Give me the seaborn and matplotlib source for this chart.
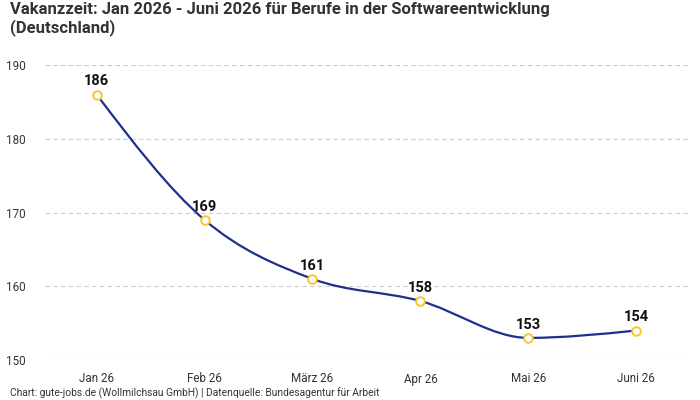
import numpy as np
import matplotlib
matplotlib.use("Agg")
import matplotlib.pyplot as plt
from matplotlib.path import Path
from matplotlib.patches import PathPatch
import seaborn as sns

# data
months = ["Jan 26", "Feb 26", "März 26", "Apr 26", "Mai 26", "Juni 26"]
vakanzzeit = [186, 169, 161, 158, 153, 154]
yticks = [150, 160, 170, 180, 190]

title = "Vakanzzeit: Jan 2026 - Juni 2026 für Berufe in der Softwareentwicklung\n(Deutschland)"
footer = "Chart: gute-jobs.de (Wollmilchsau GmbH) | Datenquelle: Bundesagentur für Arbeit"

line_color = "#1f2f8c"
marker_edge = "#f7c531"

sns.set_theme(style="white")
plt.rcParams["font.family"] = ["Roboto", "DejaVu Sans"]


def monotone_path(xs, ys):
    # d3 curveMonotoneX as cubic bezier segments (line rendering only)
    xs = np.asarray(xs, float)
    ys = np.asarray(ys, float)
    n = len(xs)
    h = np.diff(xs)
    s = np.diff(ys) / h
    t = np.zeros(n)
    for i in range(1, n - 1):
        p = (s[i - 1] * h[i] + s[i] * h[i - 1]) / (h[i - 1] + h[i])
        t[i] = (np.sign(s[i - 1]) + np.sign(s[i])) * min(abs(s[i - 1]), abs(s[i]), 0.5 * abs(p))
    t[0] = (3 * s[0] - t[1]) / 2
    t[-1] = (3 * s[-1] - t[-2]) / 2
    verts = [(xs[0], ys[0])]
    codes = [Path.MOVETO]
    for i in range(n - 1):
        dx = h[i] / 3
        verts += [(xs[i] + dx, ys[i] + dx * t[i]),
                  (xs[i + 1] - dx, ys[i + 1] - dx * t[i + 1]),
                  (xs[i + 1], ys[i + 1])]
        codes += [Path.CURVE4] * 3
    return Path(verts, codes)


fig = plt.figure(figsize=(7, 4), dpi=100)
ax = fig.add_axes([0.064, 0.1, 0.922, 0.7375])

x = np.arange(len(months))
ax.add_patch(PathPatch(monotone_path(x, vakanzzeit), facecolor="none",
                       edgecolor=line_color, lw=1.6, zorder=3))
sns.scatterplot(x=x, y=vakanzzeit, ax=ax, s=38, color="white",
                edgecolor=marker_edge, linewidth=1.4, zorder=4, clip_on=False)

for xi, v in zip(x, vakanzzeit):
    ax.annotate(str(v), (xi, v), xytext=(0, 4.5), textcoords="offset points",
                ha="center", va="bottom", fontsize=10.5, fontweight="bold", color="#111111")

ax.set_xlim(-0.48, 5.5)
ax.set_ylim(150, 190)
ax.set_xticks(x)
ax.set_xticklabels(months)
ax.set_yticks(yticks)
ax.tick_params(axis="both", length=0, labelsize=8.4, colors="#333333")
ax.tick_params(axis="x", pad=9)
ax.tick_params(axis="y", pad=14)
ax.grid(axis="y", color="#cccccc", linestyle=(0, (4, 3)), lw=0.8)
for sp in ax.spines.values():
    sp.set_visible(False)

fig.text(0.014, 0.995, title, ha="left", va="top", fontsize=12,
         fontweight="bold", color="#333333", linespacing=1.15)
fig.text(0.014, 0.017, footer, ha="left", va="center", fontsize=7.4, color="#333333")

fig.savefig("out.png", dpi=100)
